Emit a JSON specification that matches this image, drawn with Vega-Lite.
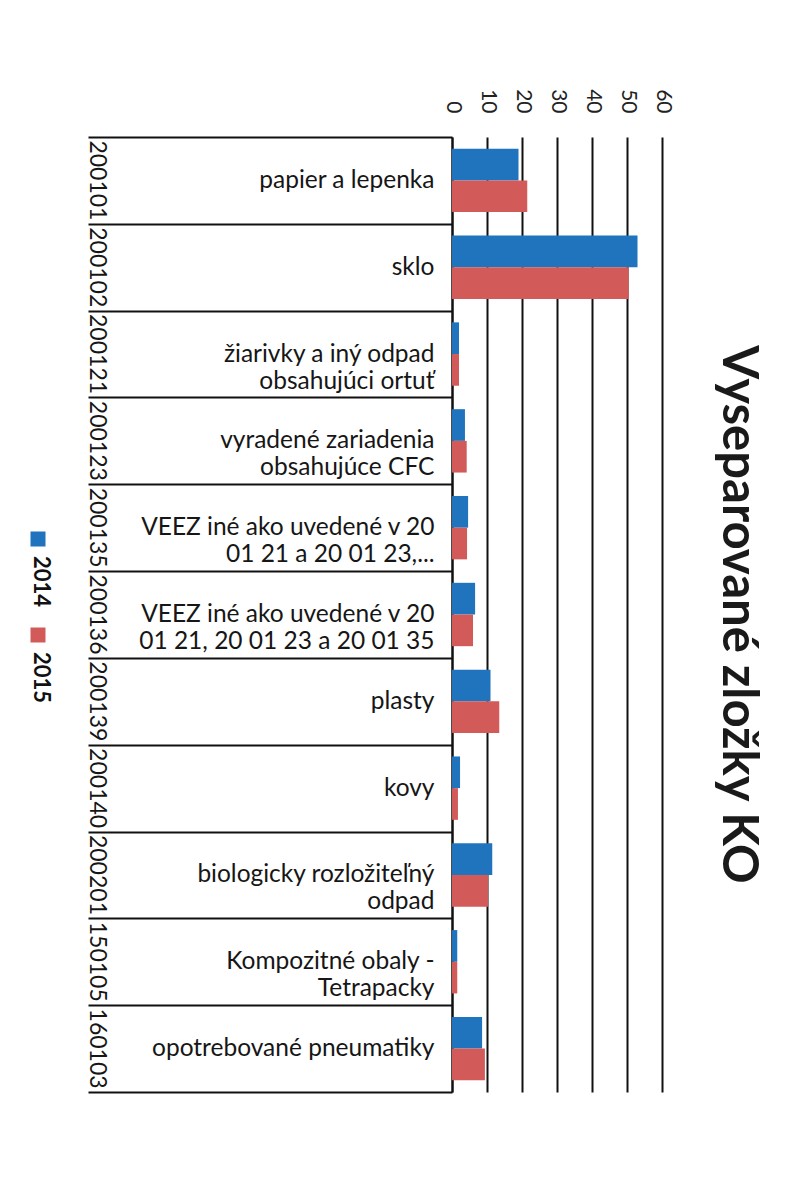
{
  "$schema": "https://vega.github.io/schema/vega-lite/v6.json",
  "width": 210,
  "height": 955,
  "autosize": {"type": "none"},
  "padding": {"left": 452, "top": 137, "right": 145, "bottom": 112},
  "background": "white",
  "title": {"text": "Vyseparované zložky KO", "orient": "right", "anchor": "middle", "font": "Lato", "fontSize": 49, "fontWeight": "bold", "color": "#1a1a1a", "offset": -9, "baseline": "bottom"},
  "data": {"values": [
    {"category": "200101|papier a lepenka", "year": "2014", "value": 19},
    {"category": "200101|papier a lepenka", "year": "2015", "value": 21.5},
    {"category": "200102|sklo", "year": "2014", "value": 53},
    {"category": "200102|sklo", "year": "2015", "value": 50.5},
    {"category": "200121|žiarivky a iný odpad|obsahujúci ortuť", "year": "2014", "value": 2},
    {"category": "200121|žiarivky a iný odpad|obsahujúci ortuť", "year": "2015", "value": 2},
    {"category": "200123|vyradené zariadenia|obsahujúce CFC", "year": "2014", "value": 3.7},
    {"category": "200123|vyradené zariadenia|obsahujúce CFC", "year": "2015", "value": 4.2},
    {"category": "200135|VEEZ iné ako uvedené v 20|01 21 a 20 01 23,...", "year": "2014", "value": 4.6},
    {"category": "200135|VEEZ iné ako uvedené v 20|01 21 a 20 01 23,...", "year": "2015", "value": 4.3},
    {"category": "200136|VEEZ iné ako uvedené v 20|01 21, 20 01 23 a 20 01 35", "year": "2014", "value": 6.6},
    {"category": "200136|VEEZ iné ako uvedené v 20|01 21, 20 01 23 a 20 01 35", "year": "2015", "value": 6},
    {"category": "200139|plasty", "year": "2014", "value": 11},
    {"category": "200139|plasty", "year": "2015", "value": 13.5},
    {"category": "200140|kovy", "year": "2014", "value": 2.3},
    {"category": "200140|kovy", "year": "2015", "value": 1.7},
    {"category": "200201|biologicky rozložiteľný|odpad", "year": "2014", "value": 11.5},
    {"category": "200201|biologicky rozložiteľný|odpad", "year": "2015", "value": 10.3},
    {"category": "150105|Kompozitné obaly -|Tetrapacky", "year": "2014", "value": 1.5},
    {"category": "150105|Kompozitné obaly -|Tetrapacky", "year": "2015", "value": 1.5},
    {"category": "160103|opotrebované pneumatiky", "year": "2014", "value": 8.6},
    {"category": "160103|opotrebované pneumatiky", "year": "2015", "value": 9.4}
  ]},
  "layer": [
    {
      "mark": {"type": "bar"},
      "encoding": {
        "y": {"field": "category", "type": "nominal", "sort": null,
          "scale": {"paddingInner": 0, "paddingOuter": 0},
          "axis": {"orient": "left", "title": null, "labelExpr": "slice(split(datum.value, '|'), 1)",
            "labelFont": "Lato", "labelFontSize": 24.5, "labelColor": "#161616", "labelLineHeight": 27,
            "labelLimit": 400, "labelPadding": -346, "labelAlign": "right", "labelBaseline": "middle",
            "tickBand": "extent", "tickSize": 364, "tickColor": "#111", "tickWidth": 2,
            "domainColor": "#111", "domainWidth": 2, "grid": false}},
        "yOffset": {"field": "year", "type": "nominal", "scale": {"paddingInner": 0, "paddingOuter": 0.37}},
        "x": {"field": "value", "type": "quantitative", "scale": {"domain": [0, 60], "nice": false},
          "axis": {"orient": "top", "title": null, "values": [0, 10, 20, 30, 40, 50, 60],
            "labelAngle": 90, "labelAlign": "right", "labelBaseline": "middle",
            "labelFont": "Lato", "labelFontSize": 21, "labelColor": "#222", "labelPadding": 24,
            "ticks": false, "domain": false, "grid": true, "gridColor": "#111", "gridWidth": 2}},
        "color": {"field": "year", "type": "nominal",
          "scale": {"domain": ["2014", "2015"], "range": ["#1f74bd", "#d25a58"]},
          "legend": {"orient": "none", "legendX": -425, "legendY": 391, "title": null, "direction": "vertical",
            "symbolType": "square", "symbolSize": 225, "symbolStrokeWidth": 0,
            "labelFont": "Lato", "labelFontSize": 22, "labelFontWeight": "bold", "labelColor": "#111",
            "labelOffset": 0, "rowPadding": 16,
            "encode": {"labels": {"update": {"angle": {"value": 90}, "dx": {"value": 17}, "dy": {"value": 8}}}}}}
      }
    },
    {
      "mark": {"type": "point", "opacity": 0},
      "encoding": {
        "y": {"field": "category", "type": "nominal", "sort": null,
          "axis": {"orient": "left", "title": null, "labelExpr": "split(datum.value, '|')[0]",
            "labelAngle": 90, "labelAlign": "center", "labelBaseline": "top",
            "labelFont": "Lato", "labelFontSize": 23, "labelColor": "#161616",
            "labelPadding": 345, "ticks": false, "domain": false, "grid": false, "offset": 0}}
      }
    }
  ],
  "resolve": {"axis": {"y": "independent"}},
  "config": {"view": {"stroke": null}}
}
